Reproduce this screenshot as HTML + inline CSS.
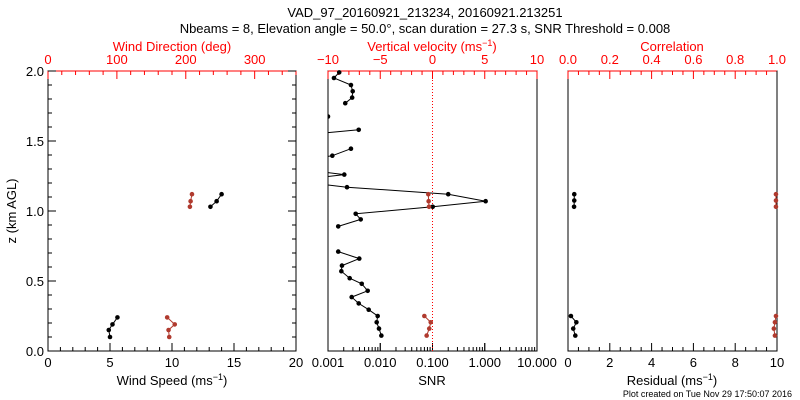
<!DOCTYPE html>
<html><head><meta charset="utf-8">
<style>
html,body{margin:0;padding:0;background:#fff;}
svg{display:block;font-family:"Liberation Sans",sans-serif;}
</style></head>
<body>
<svg id="chart" width="800" height="400" viewBox="0 0 800 400">
<text x="425" y="17" font-size="13" text-anchor="middle">VAD_97_20160921_213234, 20160921.213251</text>
<text x="425" y="33" font-size="13" text-anchor="middle">Nbeams = 8, Elevation angle = 50.0°, scan duration = 27.3 s, SNR Threshold = 0.008</text>
<text x="792" y="397" font-size="9" text-anchor="end">Plot created on Tue Nov 29 17:50:07 2016</text>
<text transform="translate(16,211) rotate(-90)" font-size="13" text-anchor="middle">z (km AGL)</text>
</svg>
<script>
// Panel 1 data
const speedZ1 = [0.10,0.15,0.19,0.24];
const speedV1 = [5.0,4.9,5.2,5.6];
const speedZ2 = [1.03,1.07,1.12];
const speedV2 = [13.1,13.6,14.0];
const dirZ1 = [0.10,0.15,0.19,0.24];
const dirV1 = [176,175,184,173];
const dirZ2 = [1.03,1.07,1.12];
const dirV2 = [206,207,209];
// Panel 2 data (null = gap; very low values run off the left edge)
const snrZ = [0.11,0.16,0.205,0.25,0.295,0.34,0.385,0.43,0.48,0.52,0.57,0.61,0.66,0.71,0.755,0.80,0.845,0.89,0.94,0.98,1.03,1.07,1.12,1.17,1.215,1.26,1.305,1.35,1.395,1.445,1.49,1.535,1.58,1.63,1.675,1.72,1.77,1.81,1.855,1.90,1.95,1.99];
const snrV = [0.0105,0.00946,0.00855,0.00893,0.00601,0.00387,0.00284,0.00575,0.00442,0.0026,0.0018,0.00185,0.00397,0.00157,null,null,null,0.00157,0.00423,0.00339,0.101,1.04,0.200,0.00231,0.0002,0.00205,0.0002,0.0002,0.00121,0.00275,null,0.0002,0.00387,null,0.001,null,0.00214,0.0029,0.00297,0.00275,0.0013,0.00164];
const wZ1 = [0.11,0.16,0.205,0.25];
const wV1 = [-0.56,-0.31,-0.17,-0.78];
const wZ2 = [1.03,1.07,1.12];
const wV2 = [-0.33,-0.37,-0.40];
// Panel 3 data
const resZ1 = [0.11,0.16,0.205,0.25];
const resV1 = [0.35,0.25,0.40,0.14];
const resZ2 = [1.03,1.075,1.12];
const resV2 = [0.29,0.30,0.30];
const corZ1 = [0.11,0.16,0.205,0.25];
const corV1 = [0.99,0.985,0.99,0.995];
const corZ2 = [1.03,1.075,1.12];
const corV2 = [0.995,0.995,0.995];

const NS="http://www.w3.org/2000/svg";
const svg=document.getElementById('chart');
const RED='#ff0000', DRED='#b03a2e';
const Y0=351,Y1=71;
const yS=z=>Y0-(z/2)*(Y0-Y1);
function el(tag,attrs,parent){const e=document.createElementNS(NS,tag);for(const k in attrs)e.setAttribute(k,attrs[k]);(parent||svg).appendChild(e);return e;}
function txt(x,y,s,color,anchor,size){const t=el('text',{x:x,y:y,'font-size':size||13,fill:color||'#000','text-anchor':anchor||'middle'});t.textContent=s;return t;}
function linS(a,b,x0,x1){return v=>x0+(v-a)/(b-a)*(x1-x0);}
function logS(a,b,x0,x1){return v=>x0+(Math.log10(v)-Math.log10(a))/(Math.log10(b)-Math.log10(a))*(x1-x0);}

function frame(x0,x1,name){
  const r=el('rect',{x:x0,y:Y1,width:x1-x0,height:Y0-Y1,fill:'none',stroke:'#000','stroke-width':1});
  
  
}
function hTicks(sc,lo,hi,maj,min,y,dir,color,labels,fmt,name){
  const g=el('g',{stroke:color});
  
  
  const n=Math.round((hi-lo)/min);
  for(let i=0;i<=n;i++){const v=lo+i*min;const x=sc(v);const isMaj=Math.abs(v/maj-Math.round(v/maj))<1e-6;
    el('line',{x1:x,x2:x,y1:y,y2:y+dir*(isMaj?8:4)},g);}
  if(labels){const nm=Math.round((hi-lo)/maj);for(let i=0;i<=nm;i++){const v=lo+i*maj;
    const t=txt(sc(v),dir<0?367:64,fmt(v),color);
    
    }}
}
function line(xs,zs,sc,color,name,clip){
  const g=el('g',{});
  if(clip)g.setAttribute('clip-path',clip);
  
  
  let pts=[];
  const flush=()=>{if(pts.length>1)el('polyline',{points:pts.join(' '),fill:'none',stroke:color,'stroke-width':1},g);pts=[];};
  for(let i=0;i<xs.length;i++){if(xs[i]==null){flush();continue;}pts.push(sc(xs[i])+','+yS(zs[i]));}
  flush();
  for(let i=0;i<xs.length;i++){if(xs[i]==null)continue;const c=el('circle',{cx:sc(xs[i]),cy:yS(zs[i]),r:2.3,fill:color},g);
    
    }
}

// ---- Panel 1
const P1=[48,296];
const sx1=linS(0,20,P1[0],P1[1]), dx1=linS(0,360,P1[0],P1[1]);
frame(P1[0],P1[1],'wind-panel-frame');
hTicks(sx1,0,20,5,1,Y0,-1,'#000',true,v=>String(v),'wind-speed-axis');
hTicks(dx1,0,360,100,20,Y1,1,RED,false,null,'wind-direction-axis');
[0,100,200,300].forEach(v=>{const t=txt(dx1(v),64,String(v),RED);});
el('line',{x1:P1[0],x2:P1[1],y1:Y1,y2:Y1,stroke:RED});
// y ticks
{const g=el('g',{stroke:'#000'});
 for(let i=0;i<=20;i++){const z=i*0.1,y=yS(z),m=i%5==0;
  el('line',{x1:P1[0],x2:P1[0]+(m?8:4),y1:y,y2:y},g);el('line',{x1:P1[1],x2:P1[1]-(m?8:4),y1:y,y2:y},g);}
 for(let i=0;i<=4;i++){const t=txt(44,yS(i*0.5)+5,(i*0.5).toFixed(1),'#000','end');}}
{const t=txt(172,385,'Wind Speed (ms','#000');
 const s=el('tspan',{dy:-5,'font-size':9},t);s.textContent='−1';const s2=el('tspan',{dy:5},t);s2.textContent=')';}
{const t=txt(172,51,'Wind Direction (deg)',RED);}
line(speedV1,speedZ1,sx1,'#000','speed-series-low');
line(speedV2,speedZ2,sx1,'#000','speed-series-high');
line(dirV1,dirZ1,dx1,DRED,'direction-series-low');
line(dirV2,dirZ2,dx1,DRED,'direction-series-high');

// ---- Panel 2
const P2=[328,537];
const sx2=logS(0.001,10,P2[0],P2[1]), wx2=linS(-10,10,P2[0],P2[1]);
el('clipPath',{id:'c2'}).appendChild(Object.assign(document.createElementNS(NS,'rect'),{}));
document.querySelector('#c2 rect').setAttribute('x',P2[0]);document.querySelector('#c2 rect').setAttribute('y',Y1-3);
document.querySelector('#c2 rect').setAttribute('width',P2[1]-P2[0]);document.querySelector('#c2 rect').setAttribute('height',Y0-Y1+6);
frame(P2[0],P2[1],'snr-panel-frame');
{const g=el('g',{stroke:'#000'});
 for(let d=-3;d<1;d++)for(let k=1;k<=10;k++){const x=sx2(k*Math.pow(10,d));el('line',{x1:x,x2:x,y1:Y0,y2:Y0-(k==1||k==10?8:4)},g);}
 ['0.001','0.010','0.100','1.000','10.000'].forEach((s,i)=>{const t=txt(sx2(Math.pow(10,i-3)),367,s,'#000');});}
hTicks(wx2,-10,10,5,1,Y1,1,RED,false,null,'vertical-velocity-axis');
[-10,-5,0,5,10].forEach(v=>{const t=txt(wx2(v),64,v<0?'−'+(-v):String(v),RED);});
el('line',{x1:P2[0],x2:P2[1],y1:Y1,y2:Y1,stroke:RED});
{const l=el('line',{x1:wx2(0),x2:wx2(0),y1:Y1,y2:Y0,stroke:RED,'stroke-dasharray':'1,2'});}
{const t=txt(432,385,'SNR','#000');}
{const t=txt(432,51,'Vertical velocity (ms',RED);
 const s=el('tspan',{dy:-5,'font-size':9},t);s.textContent='−1';const s2=el('tspan',{dy:5},t);s2.textContent=')';}
line(snrV,snrZ,sx2,'#000','snr-series','url(#c2)');
line(wV1,wZ1,wx2,DRED,'velocity-series-low');
line(wV2,wZ2,wx2,DRED,'velocity-series-high');

// ---- Panel 3
const P3=[568,777];
const rx3=linS(0,10,P3[0],P3[1]), cx3=linS(0,1,P3[0],P3[1]);
frame(P3[0],P3[1],'residual-panel-frame');
hTicks(rx3,0,10,2,0.5,Y0,-1,'#000',true,v=>String(v),'residual-axis');
hTicks(cx3,0,1,0.2,0.05,Y1,1,RED,false,null,'correlation-axis');
[0,0.2,0.4,0.6,0.8,1].forEach(v=>{const t=txt(cx3(v),64,v.toFixed(1),RED);});
el('line',{x1:P3[0],x2:P3[1],y1:Y1,y2:Y1,stroke:RED});
el('line',{x1:P3[1],x2:P3[1],y1:Y1,y2:Y0,stroke:'#000'});
{const t=txt(672,385,'Residual (ms','#000');
 const s=el('tspan',{dy:-5,'font-size':9},t);s.textContent='−1';const s2=el('tspan',{dy:5},t);s2.textContent=')';}
{const t=txt(672,51,'Correlation',RED);}
line(resV1,resZ1,rx3,'#000','residual-series-low');
line(resV2,resZ2,rx3,'#000','residual-series-high');
line(corV1,corZ1,cx3,DRED,'correlation-series-low');
line(corV2,corZ2,cx3,DRED,'correlation-series-high');
</script>
</body></html>
